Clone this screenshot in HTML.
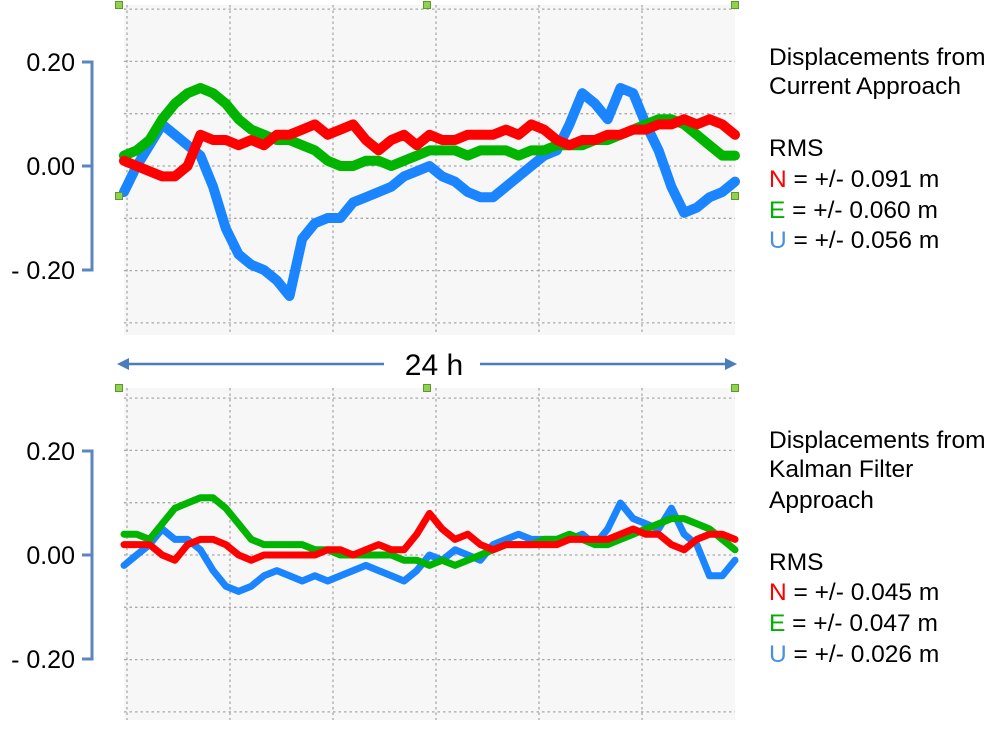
<!DOCTYPE html>
<html><head><meta charset="utf-8">
<style>
body{margin:0;background:#fff;}
svg text{font-family:"Liberation Sans",sans-serif;}
</style></head>
<body>
<svg id="chart" width="1007" height="724" xmlns="http://www.w3.org/2000/svg">
<g id="top"></g>
<g id="bot"></g>
<g id="deco">
 <line x1="124" y1="364" x2="384" y2="364" stroke="#4a7ebb" stroke-width="2.5"/>
 <line x1="480" y1="364" x2="728" y2="364" stroke="#4a7ebb" stroke-width="2.5"/>
 <polygon points="117,364 129,358 129,370" fill="#4a7ebb"/>
 <polygon points="737,364 725,358 725,370" fill="#4a7ebb"/>
 <text x="434" y="375" font-size="30" text-anchor="middle" fill="#000">24 h</text>
 <g font-size="24.5" fill="#000">
  <text x="769" y="65">Displacements from</text>
  <text x="769" y="94">Current Approach</text>
  <text x="769" y="156">RMS</text>
  <text x="769" y="187"><tspan fill="#ff0000">N</tspan> = +/- 0.091 m</text>
  <text x="769" y="218"><tspan fill="#00b000">E</tspan> = +/- 0.060 m</text>
  <text x="769" y="248"><tspan fill="#4a90e2">U</tspan> = +/- 0.056 m</text>
 </g>
 <g font-size="24.5" fill="#000">
  <text x="769" y="448">Displacements from</text>
  <text x="769" y="477">Kalman Filter</text>
  <text x="769" y="508">Approach</text>
  <text x="769" y="570">RMS</text>
  <text x="769" y="600"><tspan fill="#ff0000">N</tspan> = +/- 0.045 m</text>
  <text x="769" y="631"><tspan fill="#00b000">E</tspan> = +/- 0.047 m</text>
  <text x="769" y="662"><tspan fill="#4a90e2">U</tspan> = +/- 0.026 m</text>
 </g>
</g>
</svg>
<script>
const hours = [];
for (let i = 0; i <= 48; i++) hours.push(i * 0.5);
const yTicks = [0.2, 0, -0.2];
const yTickLabels = ["0.20", "0.00", "- 0.20"];
const topN = [0.01,0.0,-0.01,-0.02,-0.02,0.0,0.06,0.05,0.05,0.04,0.05,0.04,0.06,0.06,0.07,0.08,0.06,0.07,0.08,0.05,0.03,0.05,0.06,0.04,0.06,0.05,0.05,0.06,0.06,0.06,0.07,0.06,0.08,0.07,0.05,0.04,0.05,0.05,0.06,0.06,0.07,0.07,0.08,0.08,0.09,0.08,0.09,0.08,0.06];
const topE = [0.02,0.03,0.05,0.09,0.12,0.14,0.15,0.14,0.12,0.09,0.07,0.06,0.05,0.05,0.04,0.03,0.01,0.0,0.0,0.01,0.01,0.0,0.01,0.02,0.03,0.03,0.03,0.02,0.03,0.03,0.03,0.02,0.03,0.03,0.04,0.04,0.04,0.05,0.05,0.06,0.07,0.08,0.09,0.09,0.08,0.06,0.04,0.02,0.02];
const topU = [-0.05,0.0,0.04,0.08,0.06,0.04,0.02,-0.04,-0.12,-0.17,-0.19,-0.20,-0.22,-0.25,-0.14,-0.11,-0.10,-0.10,-0.07,-0.06,-0.05,-0.04,-0.02,-0.01,0.0,-0.02,-0.03,-0.05,-0.06,-0.06,-0.04,-0.02,0.0,0.02,0.03,0.08,0.14,0.12,0.09,0.15,0.14,0.08,0.03,-0.04,-0.09,-0.08,-0.06,-0.05,-0.03];
const botN = [0.02,0.02,0.02,0.0,-0.01,0.02,0.03,0.03,0.02,0.0,-0.01,0.0,0.0,0.0,0.0,0.0,0.01,0.01,0.0,0.01,0.02,0.01,0.01,0.04,0.08,0.05,0.03,0.04,0.02,0.01,0.02,0.02,0.02,0.02,0.02,0.03,0.03,0.03,0.03,0.04,0.05,0.04,0.04,0.02,0.01,0.03,0.04,0.04,0.03];
const botE = [0.04,0.04,0.03,0.06,0.09,0.10,0.11,0.11,0.09,0.06,0.03,0.02,0.02,0.02,0.02,0.01,0.01,0.0,0.0,0.0,0.0,0.0,-0.01,-0.01,-0.02,-0.01,-0.02,-0.01,0.0,0.01,0.02,0.02,0.02,0.03,0.03,0.04,0.03,0.02,0.02,0.03,0.04,0.05,0.06,0.07,0.07,0.06,0.05,0.03,0.01];
const botU = [-0.02,0.0,0.02,0.05,0.03,0.03,0.01,-0.03,-0.06,-0.07,-0.06,-0.04,-0.03,-0.04,-0.05,-0.04,-0.05,-0.04,-0.03,-0.02,-0.03,-0.04,-0.05,-0.03,0.0,-0.01,0.01,0.0,-0.01,0.02,0.03,0.04,0.03,0.03,0.03,0.03,0.04,0.02,0.05,0.10,0.07,0.06,0.05,0.09,0.04,0.02,-0.04,-0.04,-0.01];

const NS = "http://www.w3.org/2000/svg";
function mk(parent, tag, attrs) {
  const el = document.createElementNS(NS, tag);
  for (const k in attrs) el.setAttribute(k, attrs[k]);
  parent.appendChild(el);
  return el;
}
const X0 = 124, X1 = 735;
function xScale(t) { return X0 + t / 24 * (X1 - X0); }

function panel(g, prefix, zeroY, top, bottom, series, sw) {
  const yScale = v => zeroY - v * 520;
  const bg = mk(g, "rect", {x: X0, y: top, width: X1 - X0, height: bottom - top, fill: "#f7f7f7"});
  
  
  for (let k = -3; k <= 3; k++) {
    const y = zeroY - k * 52.3;
    const l = mk(g, "line", {x1: X0, x2: X1, y1: y, y2: y, stroke: "#a8a8a8", "stroke-width": 1.3, "stroke-dasharray": "2.5,3"});
    
    
  }
  for (let k = 0; k < 6; k++) {
    const x = 127 + k * 103;
    const l = mk(g, "line", {x1: x, x2: x, y1: top, y2: bottom, stroke: "#a8a8a8", "stroke-width": 1.3, "stroke-dasharray": "2.5,3"});
    
    
  }
  const ya = yScale(yTicks[0]), yb = yScale(yTicks[yTicks.length - 1]);
  const ax = mk(g, "path", {d: `M82 ${ya} H92 V${yb} H82`, fill: "none", stroke: "#5b86bf", "stroke-width": 3});
  
  
  yTicks.forEach((v, i) => {
    const y = yScale(v);
    const tk = mk(g, "line", {x1: 82, x2: 92, y1: y, y2: y, stroke: "#5b86bf", "stroke-width": 3});
    
    
    const tx = mk(g, "text", {x: 75, y: y + 9, "font-size": 25, "text-anchor": "end", fill: "#000"});
    tx.textContent = yTickLabels[i];
    
    
  });
  series.forEach(s => {
    const pts = s.vals.map((v, i) => xScale(hours[i]).toFixed(1) + "," + yScale(v).toFixed(1)).join(" ");
    const pl = mk(g, "polyline", {points: pts, fill: "none", stroke: s.color, "stroke-width": sw, "stroke-linejoin": "round", "stroke-linecap": "round"});
    
    
  });
  [[119, top], [427, top], [735, top]].forEach(p => {
    const h = mk(g, "rect", {x: p[0] - 3.5, y: p[1] - 3.5, width: 7, height: 7, fill: "#92d050", stroke: "#5a9a2a", "stroke-width": 1});
    
    
  });
}
panel(document.getElementById("top"), "top", 166, 5, 335,
  [{name: "u", vals: topU, color: "#1a85ff"}, {name: "e", vals: topE, color: "#00b400"}, {name: "n", vals: topN, color: "#ff0000"}], 10);
panel(document.getElementById("bot"), "bottom", 555, 388, 720,
  [{name: "u", vals: botU, color: "#1a85ff"}, {name: "e", vals: botE, color: "#00b400"}, {name: "n", vals: botN, color: "#ff0000"}], 7);
const g = document.getElementById("top");
[[119, 196], [735, 196]].forEach(p => {
  const h = mk(g, "rect", {x: p[0] - 3.5, y: p[1] - 3.5, width: 7, height: 7, fill: "#92d050", stroke: "#5a9a2a", "stroke-width": 1});
  
  
});
</script>
</body></html>
